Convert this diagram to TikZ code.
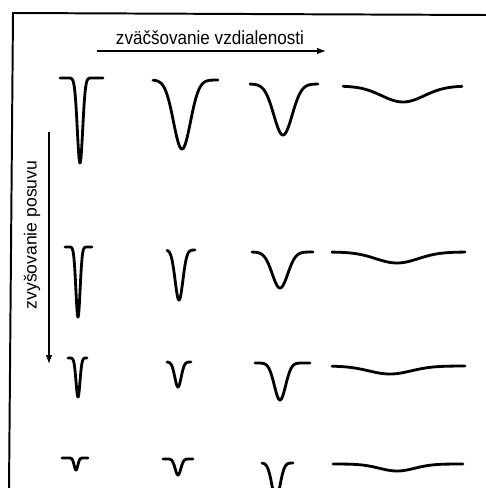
\documentclass[tikz,border=0pt]{standalone}
\usepackage{fontspec}
\setmainfont{Liberation Sans}
\usetikzlibrary{arrows.meta,positioning}
% one trough: from, to, centre, top, depth, spread
\newcommand\dip[6]{%
  \draw[trace] plot[domain=#1:#2] (\x,{#4+#5*exp(-((\x-#3)/#6)^2)});}

\begin{document}
\begin{tikzpicture}[
  x=0.025cm,y=-0.025cm,>={Latex[length=2.2mm,width=1.6mm]},
  frame/.style={line width=1.4pt,draw=black},
  trace/.style={line width=2pt,line cap=round,line join=round,samples=180},
  axis/.style={->,line width=.8pt,draw=black},
  axislabel/.style={font=\fontsize{13.5}{15}\selectfont,inner sep=1pt}
]
\useasboundingbox (0,0) rectangle (486,488);
\clip (0,0) rectangle (486,488);
\draw[frame] (486,15)--(13,13)--(9,490);
% axes
\coordinate (hstart) at (97,51);
\coordinate (hend) at (326,51);
\coordinate (vstart) at (49,132);
\coordinate (vend) at (49,364);
\draw[axis] (hstart)--(hend);
\draw[axis] (vstart)--(vend);
\node[axislabel,xscale=.9] (distlabel) at (210,38) {zväčšovanie vzdialenosti};
\node[axislabel,rotate=90,font=\fontsize{12.5}{14}\selectfont] (feedlabel) at (32,235) {zvyšovanie posuvu};
% row 1
\dip{60}{103}{80}{78}{85}{3.8}
\dip{153}{218}{182}{80}{69}{12}
\dip{250}{318}{283}{84}{51}{13}
\dip{343}{462}{403}{86}{16}{30}
% row 2
\dip{65}{92}{78}{247}{70}{3}
\dip{167}{195}{179}{250}{50}{5.5}
\dip{252}{313}{280}{252}{36}{11}
\dip{332}{465}{397}{252}{11}{30}
% row 3
\dip{68}{87}{78}{358}{39}{2.8}
\dip{167}{191}{178}{362}{25}{4.5}
\dip{255}{310}{280}{363}{37}{8}
\dip{332}{465}{390}{366}{8}{30}
% row 4
\dip{62}{88}{76}{458}{12}{2.6}
\dip{163}{193}{178}{459}{16}{4}
\dip{262}{293}{276}{463}{35}{6}
\dip{333}{463}{397}{464}{7}{25}
\end{tikzpicture}
\end{document}
